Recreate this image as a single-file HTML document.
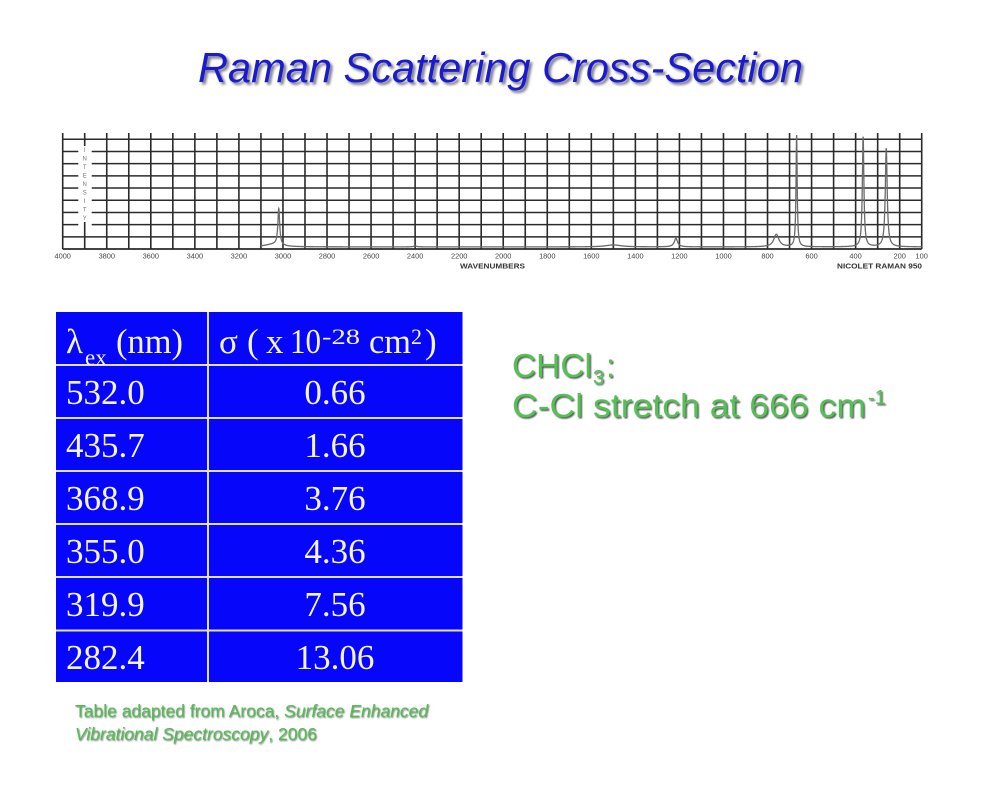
<!DOCTYPE html>
<html>
<head>
<meta charset="utf-8">
<style>
  html,body{margin:0;padding:0;background:#fff;}
  body{width:983px;height:800px;overflow:hidden;position:relative;}
  svg{position:absolute;left:0;top:0;}
  .ser{font-family:"Liberation Serif","DejaVu Serif",serif;fill:#f4f4f4;}
  .sans{font-family:"Liberation Sans","DejaVu Sans",sans-serif;}
</style>
</head>
<body>
<svg id="s" width="983" height="800" viewBox="0 0 983 800" xmlns="http://www.w3.org/2000/svg">
  <defs>
    <filter id="blur1" x="-5%" y="-20%" width="110%" height="140%"><feGaussianBlur stdDeviation="1.2"/></filter>
    <filter id="blur2" x="-5%" y="-20%" width="110%" height="140%"><feGaussianBlur stdDeviation="0.7"/></filter>
  </defs>

  <!-- Title -->
  <text class="sans" x="200.5" y="84.5" font-size="41.5" font-style="italic" fill="#7a7a8a" textLength="605" lengthAdjust="spacingAndGlyphs" filter="url(#blur1)">Raman Scattering Cross-Section</text>
  <text class="sans" x="198" y="82" font-size="41.5" font-style="italic" fill="#1a1ad0" textLength="605" lengthAdjust="spacingAndGlyphs">Raman Scattering Cross-Section</text>

  <!-- Chart -->
  <g id="grid"></g>
  <rect x="79.5" y="144" width="11" height="92" fill="#fff"/>
  <line x1="84.7" y1="133" x2="84.7" y2="249" stroke="#2a2a2a" stroke-width="1.6"/>
  <g class="sans" font-size="6" fill="#777" text-anchor="middle">
    <rect x="82" y="146" width="5.5" height="76" fill="#fff"/>
    <text x="84.7" y="152">I</text>
    <text x="84.7" y="160.5">N</text>
    <text x="84.7" y="169">T</text>
    <text x="84.7" y="177.5">E</text>
    <text x="84.7" y="186">N</text>
    <text x="84.7" y="194.5">S</text>
    <text x="84.7" y="203">I</text>
    <text x="84.7" y="211.5">T</text>
    <text x="84.7" y="220">Y</text>
  </g>
  <path id="spec" d="" fill="none" stroke="#6a6a6a" stroke-width="1.3"/>
  <g id="ticks" class="sans" font-size="7.4" fill="#444" text-anchor="middle"></g>
  <text class="sans" x="460" y="268.5" font-size="7" font-weight="bold" fill="#333" textLength="65" lengthAdjust="spacingAndGlyphs">WAVENUMBERS</text>
  <text class="sans" x="837" y="268.5" font-size="7" font-weight="bold" fill="#333" textLength="85" lengthAdjust="spacingAndGlyphs">NICOLET RAMAN 950</text>

  <!-- Table -->
  <rect x="56" y="312" width="406.5" height="370" fill="#dfe0ee"/>
  <g id="cells" fill="#0606fa"></g>

  <!-- header -->
  <text class="ser" x="66" y="353" font-size="35">λ</text>
  <text class="ser" x="85" y="365" font-size="23">ex</text>
  <text class="ser" x="116" y="353" font-size="35" textLength="67" lengthAdjust="spacingAndGlyphs">(nm)</text>
  <text class="ser" x="219" y="353" font-size="35">σ</text>
  <text class="ser" x="247" y="353" font-size="35">(</text>
  <text class="ser" x="266" y="353" font-size="35">x</text>
  <text class="ser" x="290" y="353" font-size="35" textLength="31" lengthAdjust="spacingAndGlyphs">10</text>
  <text class="ser" x="322" y="344" font-size="22" textLength="38" lengthAdjust="spacingAndGlyphs">-28</text>
  <text class="ser" x="369" y="353" font-size="35" textLength="42" lengthAdjust="spacingAndGlyphs">cm</text>
  <text class="ser" x="411" y="344" font-size="22">2</text>
  <text class="ser" x="425" y="353" font-size="35">)</text>

  <!-- rows -->
  <g class="ser" font-size="35">
    <text x="66" y="404">532.0</text>
    <text x="66" y="457">435.7</text>
    <text x="66" y="510">368.9</text>
    <text x="66" y="563">355.0</text>
    <text x="66" y="616">319.9</text>
    <text x="66" y="669">282.4</text>
  </g>
  <g class="ser" font-size="35" text-anchor="middle">
    <text x="335" y="404">0.66</text>
    <text x="335" y="457">1.66</text>
    <text x="335" y="510">3.76</text>
    <text x="335" y="563">4.36</text>
    <text x="335" y="616">7.56</text>
    <text x="335" y="669">13.06</text>
  </g>

  <!-- Green annotation -->
  <g class="sans" fill="#4f5f4f" filter="url(#blur2)" transform="translate(1.3,1.3)">
    <text x="512" y="377" font-size="33" textLength="80" lengthAdjust="spacingAndGlyphs">CHCl</text>
    <text x="593" y="384" font-size="20">3</text>
    <text x="606" y="377" font-size="33">:</text>
    <text x="512" y="417" font-size="33" textLength="354" lengthAdjust="spacingAndGlyphs">C-Cl stretch at 666 cm</text>
    <text x="868" y="404" font-size="20">-1</text>
  </g>
  <g class="sans" fill="#55c055">
    <text x="512" y="377" font-size="33" textLength="80" lengthAdjust="spacingAndGlyphs">CHCl</text>
    <text x="593" y="384" font-size="20">3</text>
    <text x="606" y="377" font-size="33">:</text>
    <text x="512" y="417" font-size="33" textLength="354" lengthAdjust="spacingAndGlyphs">C-Cl stretch at 666 cm</text>
    <text x="868" y="404" font-size="20">-1</text>
  </g>

  <!-- Source -->
  <g class="sans" font-size="17.5" fill="#6a7a6a" filter="url(#blur2)" transform="translate(0.8,0.8)">
    <text x="75" y="717">Table adapted from Aroca, <tspan font-style="italic">Surface Enhanced</tspan></text>
    <text x="75" y="740"><tspan font-style="italic">Vibrational Spectroscopy</tspan>, 2006</text>
  </g>
  <g class="sans" font-size="17.5" fill="#55bb55">
    <text x="75" y="717">Table adapted from Aroca, <tspan font-style="italic">Surface Enhanced</tspan></text>
    <text x="75" y="740"><tspan font-style="italic">Vibrational Spectroscopy</tspan>, 2006</text>
  </g>
</svg>
<script>
(function(){
  var NS="http://www.w3.org/2000/svg";
  function X(w){return 62.7+(4000-w)*0.22026;}
  function el(tag,attrs,parent,txt){var e=document.createElementNS(NS,tag);for(var k in attrs)e.setAttribute(k,attrs[k]);if(txt!==undefined)e.textContent=txt;parent.appendChild(e);return e;}
  var grid=document.getElementById('grid');
  var xl=X(4000), xr=X(100);
  var col='#2a2a2a';
  for(var i=0;i<=9;i++){
    var y=139.3+i*12.19;
    if(i>=1&&i<=7){
      el('line',{x1:xl,y1:y,x2:78.3,y2:y,stroke:col,'stroke-width':1.5},grid);
      el('line',{x1:91.7,y1:y,x2:xr,y2:y,stroke:col,'stroke-width':1.5},grid);
    } else {
      el('line',{x1:xl,y1:y,x2:xr,y2:y,stroke:col,'stroke-width':(i==9?1.8:1.5)},grid);
    }
  }
  for(var w=4000;w>=100;w-=100){
    if(w==3900) continue;
    var x=X(w);
    el('line',{x1:x,y1:133,x2:x,y2:249,stroke:col,'stroke-width':1.6},grid);
  }
  var ticks=document.getElementById('ticks');
  var labs=[];
  for(var w=4000;w>=200;w-=200)labs.push(w);
  labs.push(100);
  labs.forEach(function(w){el('text',{x:X(w).toFixed(1),y:258.7},ticks,String(w));});
  var peaks=[[3019,36.5,5],[3045,2.5,45],[2400,1,8],[1500,2,40],[1216,8.5,9],[760,12.5,14],[668,111.5,3.2],[366,110,4.2],[261,98.5,5.2]];
  var d='';
  for(var w=3100;w>=100;w-=0.5){
    var y=246.9;
    for(var j=0;j<peaks.length;j++){var p=peaks[j],g=p[2],dw=w-p[0];y-=p[1]*g*g/(dw*dw+g*g);}
    d+=(d?'L':'M')+X(w).toFixed(2)+' '+y.toFixed(2);
  }
  document.getElementById('spec').setAttribute('d',d);
  var cells=document.getElementById('cells');
  var rows=[[312,364],[366,417],[419,470],[472,523],[525,576],[578,629.5],[631.5,682]];
  rows.forEach(function(r){
    el('rect',{x:56,y:r[0],width:151,height:r[1]-r[0]},cells);
    el('rect',{x:209,y:r[0],width:253.5,height:r[1]-r[0]},cells);
  });
})();
</script>
</body>
</html>
